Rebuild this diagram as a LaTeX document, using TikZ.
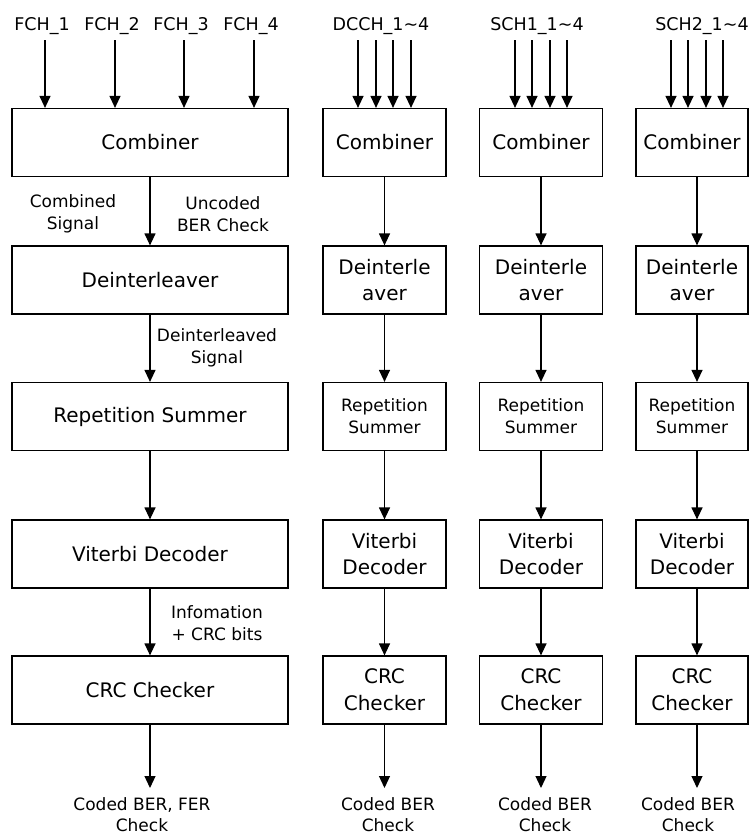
\documentclass[tikz,border=0pt]{standalone}
\usepackage{fontspec}
\setmainfont{DejaVu Sans}
\usetikzlibrary{arrows.meta}
\begin{document}
\begin{tikzpicture}[x=1pt,y=-1pt,
  blk/.style={draw, line width=1.2pt, minimum height=68pt, inner sep=0pt, align=center, font=\fontsize{20}{26.7}\selectfont},
  blkL/.style={blk, minimum width=276pt},
  blkN/.style={blk, minimum width=123pt},
  blkR/.style={blk, minimum width=112pt},
  small/.style={font=\fontsize{17}{21.7}\selectfont},
  arr/.style={line width=1.2pt, -{Triangle[length=12pt,width=11pt]}},
  lbl/.style={align=center, inner sep=0pt, font=\fontsize{17}{21.5}\selectfont},
  toplbl/.style={anchor=base, inner sep=0pt, font=\fontsize{17.5}{21}\selectfont}]
\useasboundingbox (0,0) rectangle (750,836);

% ---------- left column (FCH)
\node[blkL] (Lc) at (150,142.5) {Combiner};
\node[blkL] (Ld) at (150,280) {Deinterleaver};
\node[blkL] (Lr) at (150,416.5) {Repetition Summer};
\node[blkL] (Lv) at (150,554) {Viterbi Decoder};
\node[blkL] (Lk) at (150,690) {CRC Checker};

% ---------- DCCH column
\node[blkN] (Dc) at (384.5,142.5) {Combiner};
\node[blkN] (Dd) at (384.5,280) {Deinterle\\aver};
\node[blkN, small, align=center] (Dr) at (384.5,416.5) {Repetition\\Summer};
\node[blkN] (Dv) at (384.5,554) {Viterbi\\Decoder};
\node[blkN] (Dk) at (384.5,690) {CRC\\Checker};

% ---------- SCH1 column
\node[blkN] (Sc) at (541,142.5) {Combiner};
\node[blkN] (Sd) at (541,280) {Deinterle\\aver};
\node[blkN, small, align=center] (Sr) at (541,416.5) {Repetition\\Summer};
\node[blkN] (Sv) at (541,554) {Viterbi\\Decoder};
\node[blkN] (Sk) at (541,690) {CRC\\Checker};

% ---------- SCH2 column
\node[blkR] (Tc) at (692,142.5) {Combiner};
\node[blkR] (Td) at (692,280) {Deinterle\\aver};
\node[blkR, small, align=center] (Tr) at (692,416.5) {Repetition\\Summer};
\node[blkR] (Tv) at (692,554) {Viterbi\\Decoder};
\node[blkR] (Tk) at (692,690) {CRC\\Checker};

% ---------- top labels
\node[toplbl] (lf1) at (42,30) {FCH\_1};
\node[toplbl] (lf2) at (112,30) {FCH\_2};
\node[toplbl] (lf3) at (181,30) {FCH\_3};
\node[toplbl] (lf4) at (251,30) {FCH\_4};
\node[toplbl] (ld) at (381,30) {DCCH\_1\textasciitilde4};
\node[toplbl] (ls1) at (537,30) {SCH1\_1\textasciitilde4};
\node[toplbl] (ls2) at (702,30) {SCH2\_1\textasciitilde4};

% ---------- input arrows
\foreach \x/\n in {45/a,115/b,184/c,254/d}{
  \coordinate (iL\n) at (\x,40);
  \draw[arr] (iL\n) -- (iL\n |- Lc.north);
}
\foreach \x/\n in {358/a,376/b,393/c,411/d}{
  \coordinate (iD\n) at (\x,40);
  \draw[arr] (iD\n) -- (iD\n |- Dc.north);
}
\foreach \x/\n in {515/a,532/b,550/c,567/d}{
  \coordinate (iS\n) at (\x,40);
  \draw[arr] (iS\n) -- (iS\n |- Sc.north);
}
\foreach \x/\n in {671/a,688/b,706/c,723/d}{
  \coordinate (iT\n) at (\x,40);
  \draw[arr] (iT\n) -- (iT\n |- Tc.north);
}

% ---------- chain arrows
\foreach \c in {L,D,S}{
  \draw[arr] (\c c.south) -- (\c d.north);
  \draw[arr] (\c d.south) -- (\c r.north);
  \draw[arr] (\c r.south) -- (\c v.north);
  \draw[arr] (\c v.south) -- (\c k.north);
}
\draw[arr] ([xshift=5pt]Tc.south) -- ([xshift=5pt]Td.north);
\draw[arr] ([xshift=5pt]Td.south) -- ([xshift=5pt]Tr.north);
\draw[arr] ([xshift=5pt]Tr.south) -- ([xshift=5pt]Tv.north);
\draw[arr] ([xshift=5pt]Tv.south) -- ([xshift=5pt]Tk.north);

% ---------- outputs
\coordinate (oL) at (150,788);
\coordinate (oD) at (384.5,788);
\coordinate (oS) at (541,788);
\coordinate (oT) at (697,788);
\draw[arr] (Lk.south) -- (oL);
\draw[arr] (Dk.south) -- (oD);
\draw[arr] (Sk.south) -- (oS);
\draw[arr] ([xshift=5pt]Tk.south) -- (oT);

\node[lbl] (bL) at (142,814.5) {Coded BER, FER\\Check};
\node[lbl] (bD) at (388,814.5) {Coded BER\\Check};
\node[lbl] (bS) at (545,814.5) {Coded BER\\Check};
\node[lbl] (bT) at (688,814.5) {Coded BER\\Check};

% ---------- side labels
\node[lbl] (l1) at (73,214) {Combined\\Signal};
\node[lbl] (l2) at (223,214) {Uncoded\\BER Check};
\node[lbl] (l3) at (217,348) {Deinterleaved\\Signal};
\node[lbl] (l4) at (217,623) {Infomation\\+ CRC bits};
\end{tikzpicture}
\end{document}
